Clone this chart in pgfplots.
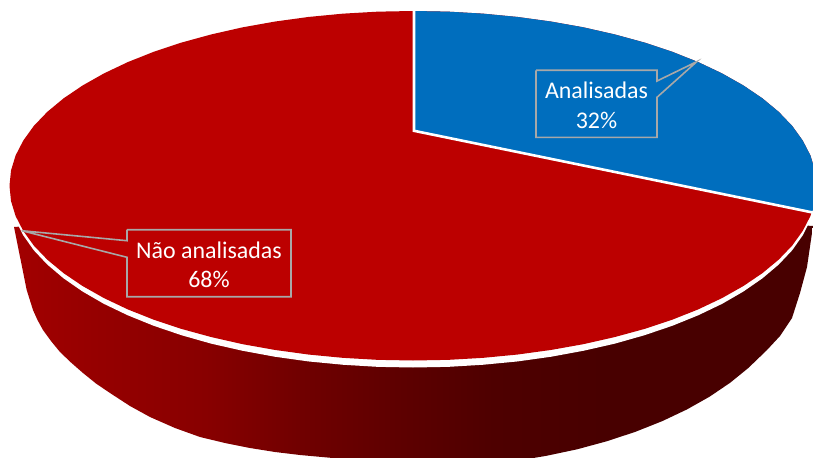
\documentclass[border=0pt]{standalone}
\usepackage{pgfplots}
\pgfplotsset{compat=1.18}
\usepackage{fontspec}
\setmainfont{Carlito}

\definecolor{sliceRed}{HTML}{BC0000}
\definecolor{sliceBlue}{HTML}{006EBE}
\definecolor{calloutGray}{HTML}{A8A8A8}
\definecolor{wall0}{HTML}{A20000}
\definecolor{wall1}{HTML}{960000}
\definecolor{wall2}{HTML}{880000}
\definecolor{wall3}{HTML}{700000}
\definecolor{wall4}{HTML}{5E0000}
\definecolor{wall5}{HTML}{4E0000}
\definecolor{wall6}{HTML}{480000}

% Horizontal falloff of the dark wall below the disc (path spans 25bp to 75bp)
\pgfdeclarehorizontalshading{wallshade}{100bp}{
  color(0bp)=(wall0);
  color(25bp)=(wall0);
  color(30bp)=(wall1);
  color(37bp)=(wall2);
  color(43bp)=(wall3);
  color(49bp)=(wall4);
  color(55bp)=(wall5);
  color(62bp)=(wall6);
  color(75bp)=(wall6);
  color(100bp)=(wall6)}

\tikzset{slicelabel/.style={text=white, font=\fontsize{24}{28}\selectfont}}

\begin{document}
\begin{tikzpicture}
\path[use as bounding box] (0,0) rectangle (813bp,458bp);
\begin{axis}[
  at={(0,0)}, anchor=south west,
  width=813bp, height=458bp, scale only axis,
  xmin=0, xmax=813, ymin=0, ymax=458,
  y dir=reverse, hide axis, clip=true,
]
% Side wall of the disc
\addplot[draw=none, shading=wallshade] coordinates {
  (14,227) (413,200) (813,226) (807,267) (800,293) (792,318) (780,336)
  (767,350) (748.3,368) (730.2,382.7) (709.7,396.6)
  (687,409.4) (662.1,421.2) (635.4,431.8) (607,441.2) (577.1,449.3)
  (546,455.9) (513.9,461.2) (481,465) (447.7,467.2) (414,468) (380.3,467.2)
  (350,463.5) (333,458) (300,455) (275,452) (250,448) (225,443) (200,437)
  (175,428) (150,417) (130,406) (110,393) (96,383.5) (83,373) (71,362.5)
  (60,352) (51,341) (43,330) (37.5,320) (33,310) (26.7,290) (14,227)
};
% White rim between the top face and the wall
\addplot[draw=none, fill=white] coordinates {
  (822,185) (815,204.75) (810.4,220.15) (802.7,235.35) (792.2,250.25)
  (778.7,264.55) (762.4,278.35) (743.5,291.45) (722.1,303.85) (698.3,315.25)
  (672.4,325.75) (644.4,335.25) (614.8,343.65) (583.5,350.75) (551,356.75)
  (517.4,361.45) (483,364.75) (448.2,366.85) (413,367.5) (377.8,366.85)
  (343,364.75) (308.6,361.45) (275,356.75) (242.5,350.75) (211.2,343.65)
  (181.6,335.25) (153.6,325.75) (127.7,315.25) (103.9,303.85) (82.5,291.45)
  (63.6,278.35) (47.3,264.55) (33.8,250.25) (23.3,235.35) (15.6,220.15)
  (11,204.75) (4,185) (822,185)
};
% Top face: Não analisadas, 68%
\addplot[draw=none, fill=sliceRed] coordinates {
  (413,11) (448.2,11.65) (483,13.65) (517.4,16.95) (551,21.55) (583.5,27.35)
  (614.8,34.45) (644.4,42.55) (672.4,51.85) (698.3,62.15) (722.1,73.45)
  (743.5,85.55) (762.4,98.35) (778.7,111.85) (792.2,125.95) (802.7,140.55)
  (810.4,155.45) (815,170.55) (816.5,185.75) (815,200.95) (810.4,216.05)
  (802.7,230.95) (792.2,245.55) (778.7,259.65) (762.4,273.15) (743.5,285.95)
  (722.1,298.05) (698.3,309.35) (672.4,319.65) (644.4,328.95) (614.8,337.05)
  (583.5,344.15) (551,349.95) (517.4,354.55) (483,357.85) (448.2,359.85)
  (413,360.5) (377.8,359.85) (343,357.85) (308.6,354.55) (275,349.95)
  (242.5,344.15) (211.2,337.05) (181.6,328.95) (153.6,319.65) (127.7,309.35)
  (103.9,298.05) (82.5,285.95) (63.6,273.15) (47.3,259.65) (33.8,245.55)
  (23.3,230.95) (15.6,216.05) (11,200.95) (9.5,185.75) (11,170.55)
  (15.6,155.45) (23.3,140.55) (33.8,125.95) (47.3,111.85) (63.6,98.35)
  (82.5,85.55) (103.9,73.45) (127.7,62.15) (153.6,51.85) (181.6,42.55)
  (211.2,34.45) (242.5,27.35) (275,21.55) (308.6,16.95) (343,13.65)
  (377.8,11.65) (413,11)
};
% Top face: Analisadas, 32%
\addplot[draw=none, fill=sliceBlue] coordinates {
  (413,131) (413,11) (448.2,11.65) (483,13.65) (517.4,16.95) (551,21.55)
  (583.5,27.35) (614.8,34.45) (644.4,42.55) (672.4,51.85) (698.3,62.15)
  (722.1,73.45) (743.5,85.55) (762.4,98.35) (778.7,111.85) (792.2,125.95)
  (802.7,140.55) (810.4,155.45) (815,170.55) (816.5,185.75) (815,200.95)
  (812.2,212) (413,131)
};
% Separator between the two slices
\addplot[white, line width=2.6bp, line join=miter] coordinates {
  (414,6) (414,130.8) (820,214)
};
% Callout for Analisadas
\addplot[draw=calloutGray, fill=sliceBlue, line width=1.6bp, line join=miter] coordinates {
  (536,70.3) (657,70.3) (657,81) (696.7,61.7) (657,97.3) (657,137.3) (536,137.3) (536,70.3)
};
\node[slicelabel] at (axis cs:596.5,90) {Analisadas};
\node[slicelabel] at (axis cs:596.5,120) {32\%};
% Callout for Não analisadas
\addplot[draw=calloutGray, fill=sliceRed, line width=1.6bp, line join=miter] coordinates {
  (127,229.7) (291,229.7) (291,296.7) (127,296.7) (127,257.3) (21.7,230.7) (127,240.7) (127,229.7)
};
\node[slicelabel] at (axis cs:209,250) {Não analisadas};
\node[slicelabel] at (axis cs:209,279) {68\%};
\end{axis}
\end{tikzpicture}
\end{document}
